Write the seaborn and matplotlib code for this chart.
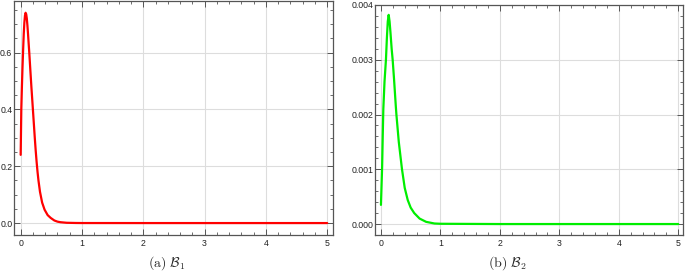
import matplotlib
matplotlib.use("Agg")
import matplotlib.pyplot as plt
import seaborn as sns
import pandas as pd
from matplotlib.ticker import MultipleLocator, FormatStrFormatter

# ---- data ----
b1_t = [0.0, 0.005, 0.01, 0.02, 0.03, 0.04, 0.05, 0.06, 0.07, 0.08, 0.09, 0.10, 0.11,
        0.12, 0.13, 0.14, 0.15, 0.16, 0.175, 0.19, 0.21, 0.23, 0.245, 0.26, 0.275, 0.29,
        0.315, 0.35, 0.39, 0.44, 0.49, 0.55, 0.60, 0.65, 0.75, 0.90, 1.0, 2.0, 3.0, 4.0, 5.0]
b1_v = [0.24, 0.32, 0.40, 0.48, 0.55, 0.61, 0.665, 0.705, 0.73, 0.74, 0.735, 0.72, 0.695,
        0.665, 0.632, 0.60, 0.565, 0.53, 0.478, 0.43, 0.365, 0.30, 0.255, 0.215, 0.18, 0.15,
        0.11, 0.072, 0.047, 0.028, 0.018, 0.009, 0.005, 0.003, 0.001, 0.0003, 0.0001,
        0.0, 0.0, 0.0, 0.0]

b2_t = [0.0, 0.01, 0.02, 0.03, 0.04, 0.06, 0.084, 0.10, 0.115, 0.13, 0.145, 0.16, 0.18,
        0.197, 0.22, 0.25, 0.26, 0.30, 0.354, 0.40, 0.45, 0.50, 0.56, 0.65, 0.76, 0.90,
        1.0, 2.0, 3.0, 4.0, 5.0]
b2_v = [0.00035, 0.0007, 0.00105, 0.0016, 0.0021, 0.0026, 0.0030, 0.0034, 0.0037, 0.00382,
        0.0037, 0.0035, 0.0032, 0.0030, 0.00265, 0.00215, 0.0020, 0.0015, 0.0010, 0.00066,
        0.00044, 0.0003, 0.0002, 0.0001, 0.00004, 0.00001, 0.000005, 0.0, 0.0, 0.0, 0.0]

captions = [r"$\mathrm{(a)}\ \mathcal{B}_1$", r"$\mathrm{(b)}\ \mathcal{B}_2$"]

sns.set_style("white")
plt.rcParams["mathtext.fontset"] = "cm"
plt.rcParams["font.family"] = ["Liberation Sans", "DejaVu Sans"]

W, H = 685, 272
fig = plt.figure(figsize=(W / 100, H / 100), dpi=100)

ax1 = fig.add_axes([14 / W, 1 - 235 / H, (333 - 14) / W, 235 / H - 0.003])
ax2 = fig.add_axes([375 / W, 1 - 235 / H, (683 - 375) / W, (235 - 5) / H])

df1 = pd.DataFrame({"t": b1_t, "v": b1_v})
df2 = pd.DataFrame({"t": b2_t, "v": b2_v})
sns.lineplot(data=df1, x="t", y="v", ax=ax1, color="#ff0000", lw=1.6)
sns.lineplot(data=df2, x="t", y="v", ax=ax2, color="#00ee00", lw=1.6)

ax1.set_xlim(-0.109, 5.095)
ax1.set_ylim(-0.042, 0.782)
ax2.set_xlim(-0.10, 5.08)
ax2.set_ylim(-0.0002, 0.004)

ax1.yaxis.set_major_locator(MultipleLocator(0.2))
ax1.yaxis.set_minor_locator(MultipleLocator(0.05))
ax1.yaxis.set_major_formatter(FormatStrFormatter("%.1f"))
ax2.yaxis.set_major_locator(MultipleLocator(0.001))
ax2.yaxis.set_minor_locator(MultipleLocator(0.0002))
ax2.yaxis.set_major_formatter(FormatStrFormatter("%.3f"))

for ax in (ax1, ax2):
    ax.set_xlabel("")
    ax.set_ylabel("")
    ax.xaxis.set_major_locator(MultipleLocator(1))
    ax.xaxis.set_minor_locator(MultipleLocator(0.2))
    ax.xaxis.set_major_formatter(FormatStrFormatter("%d"))
    ax.grid(True, which="major", color="#dddddd", lw=0.8)
    ax.set_axisbelow(True)
    for s in ax.spines.values():
        s.set_visible(True)
        s.set_color("#555555")
        s.set_linewidth(0.9)
    ax.tick_params(which="both", direction="in", top=True, right=True,
                   bottom=True, left=True, color="#555555", labelsize=6.3,
                   labelcolor="#222222")
    ax.tick_params(axis="y", pad=1.2)
    ax.tick_params(axis="x", pad=3)
    ax.tick_params(which="major", length=4, width=0.7)
    ax.tick_params(which="minor", length=2, width=0.6)

fig.text(167 / W, 1 - 263 / H, captions[0], ha="center", va="center", fontsize=10)
fig.text(507 / W, 1 - 263 / H, captions[1], ha="center", va="center", fontsize=10)

fig.savefig("out.png", dpi=100)
